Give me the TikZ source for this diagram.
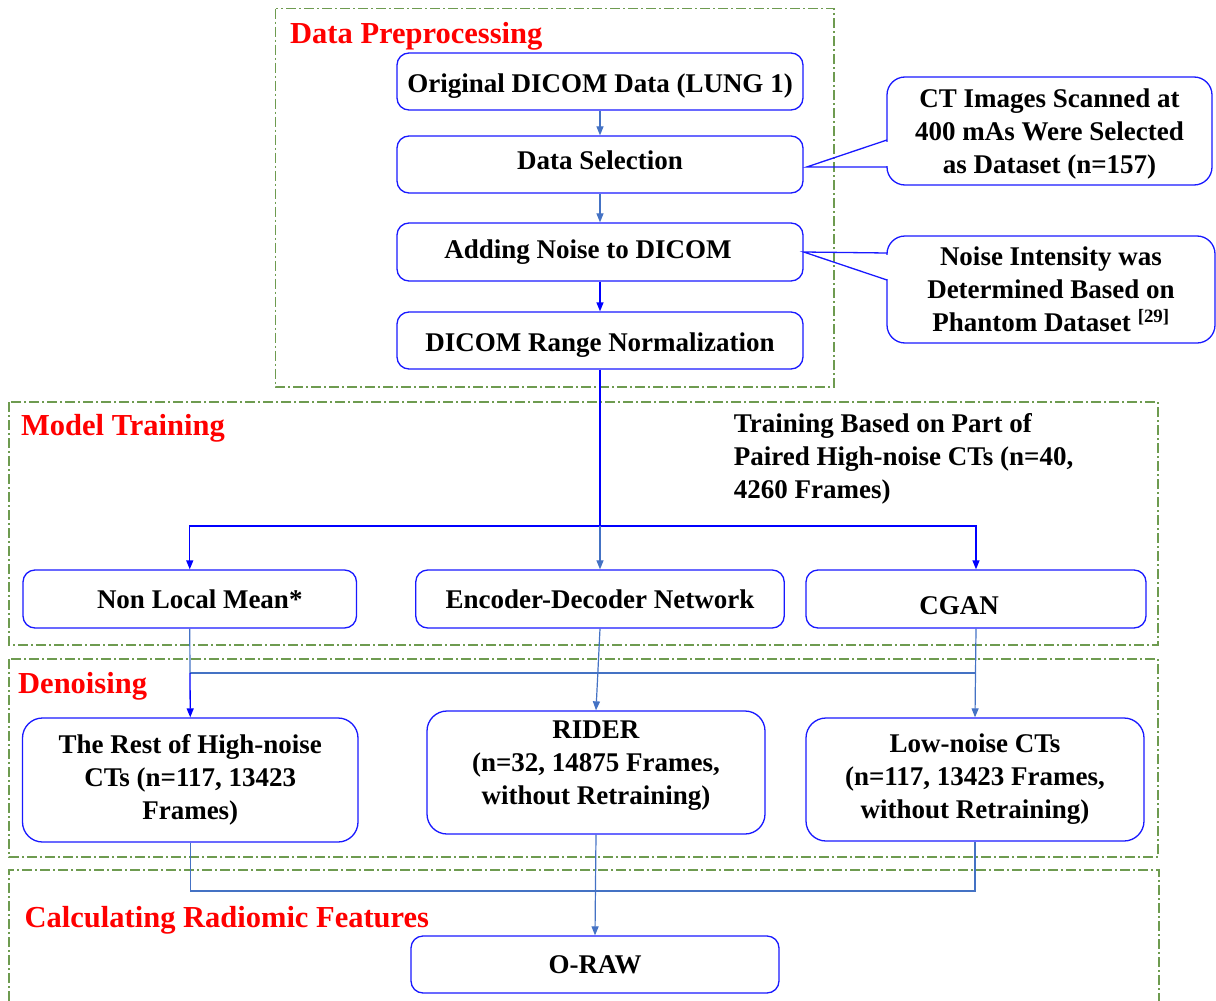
\documentclass[tikz,border=0pt]{standalone}
\usepackage{fontspec}
\setmainfont{Liberation Serif}
\usetikzlibrary{arrows.meta,calc}
\definecolor{boxblue}{RGB}{25,25,255}
\definecolor{lblue}{RGB}{68,114,196}
\definecolor{dblue}{RGB}{0,0,255}
\definecolor{grp}{RGB}{110,155,80}
\definecolor{ttl}{RGB}{255,0,0}
\newcommand{\shiftv}[2]{\raisebox{#1}[\height][\depth]{#2}}
\begin{document}
\begin{tikzpicture}[x=1pt,y=-1pt,
  every node/.style={font=\fontsize{27}{33}\selectfont\bfseries},
  box/.style={draw=boxblue, line width=1.3pt, rounded corners=12pt, inner sep=0pt, align=center, fill=white},
  tallbox/.style={box, rounded corners=20pt},
  callout/.style={box, rounded corners=18pt},
  group/.style={draw=grp, line width=1.2pt, dash pattern=on 10pt off 3pt on 2pt off 3pt},
  title/.style={text=ttl, font=\fontsize{30.5}{36}\selectfont\bfseries, anchor=base west, inner sep=0pt},
  la/.style={draw=lblue, line width=1.2pt},
  da/.style={draw=dblue, line width=1.3pt},
  tip/.style={-{Triangle[length=9pt,width=7pt]}}
]
\useasboundingbox (0,0) rectangle (1216,1001);

% groups
\draw[group] (275.5,8.5) rectangle (834,387);
\draw[group] (9,402) rectangle (1158,645);
\draw[group] (9,659) rectangle (1158,857);
\draw[group] (9,1001) -- (9,870) -- (1159,870) -- (1159,1001);

% titles
\node[title] (tprep) at (290,43) {Data Preprocessing};
\node[title] (ttrain) at (21,435) {Model Training};
\node[title] (tden) at (18,693) {Denoising};
\node[title] (tcalc) at (24.5,927) {Calculating Radiomic Features};

% preprocessing boxes
\node[box, minimum width=406pt, minimum height=57pt] (orig) at (600,81.5) {\shiftv{-5pt}{Original DICOM Data (LUNG 1)}};
\node[box, minimum width=406pt, minimum height=57pt] (sel) at (600,164.5) {\shiftv{4pt}{Data Selection}};
\node[box, minimum width=406pt, minimum height=58pt] (noise) at (600,252) {Adding Noise to DICOM\hspace*{24pt}};
\node[box, minimum width=406pt, minimum height=57pt] (norm) at (600,340.5) {\shiftv{-5pt}{DICOM Range Normalization}};

% callouts
\node[callout, minimum width=325pt, minimum height=108pt] (call1) at (1049.5,131) {\shiftv{-3pt}{\begin{tabular}{@{}c@{}}CT Images Scanned at\\400 mAs Were Selected\\as Dataset (n=157)\end{tabular}}};
\node[callout, minimum width=328pt, minimum height=107pt] (call2) at (1051,289.5) {Noise Intensity was\\Determined Based on\\Phantom Dataset \textsuperscript{[29]}};
\draw[white, line width=3pt] (887,141.5) -- (887,165.5);
\draw[boxblue, line width=1.3pt] (887,140) -- ($(sel.east)+(3,2.5)$) -- (887,167);
\draw[white, line width=3pt] (887,254.5) -- (887,278.5);
\draw[boxblue, line width=1.3pt] (887,253) -- (noise.east) -- (887,280);

% training
\node[anchor=north west, inner sep=0pt, align=left] (tlabel) at (733.6,413.5) {Training Based on Part of\\Paired High-noise CTs (n=40,\\4260 Frames)};
\node[box, minimum width=333.5pt, minimum height=58pt] (nlm) at (189.75,599) {\hspace*{20pt}Non Local Mean*};
\node[box, minimum width=368.5pt, minimum height=58pt] (enc) at (600,599) {Encoder-Decoder Network};
\node[box, minimum width=340pt, minimum height=58pt] (cgan) at (976,599) {\shiftv{-7pt}{CGAN}\hspace*{34pt}};

% denoising
\node[tallbox, minimum width=335.5pt, minimum height=124pt] (rest) at (190.25,780) {The Rest of High-noise\\CTs (n=117, 13423\\Frames)};
\node[tallbox, minimum width=338pt, minimum height=123pt] (rider) at (596,772.5) {\shiftv{8pt}{\begin{tabular}{@{}c@{}}RIDER\\(n=32, 14875 Frames,\\without Retraining)\end{tabular}}};
\node[tallbox, minimum width=338pt, minimum height=123pt] (low) at (975,779.5) {Low-noise CTs\\(n=117, 13423 Frames,\\without Retraining)};

% calculating
\node[box, minimum width=368pt, minimum height=57pt] (oraw) at (595,964.5) {O-RAW};

% connectors
\draw[la, tip] (orig) -- (sel);
\draw[la, tip] (sel) -- (noise);
\draw[da, tip] (noise) -- (norm);
\coordinate (split) at (600,526);
\draw[da] (norm.south) -- (split);
\draw[da, tip] (split) -| (nlm.north);
\draw[da, tip] (split) -| (cgan.north);
\draw[la, tip] (split) -- (enc.north);

\coordinate (jl) at (190,673);
\coordinate (jr) at (976,673);
\draw[la] (nlm.south) -- (jl);
\draw[la] (jl) -- (jr);
\draw[da, tip] (jl) -- (rest.north);
\draw[la, tip] (enc.south) -- (rider.north);
\draw[la, tip] (cgan.south) -- (low.north);

\coordinate (bl) at (190.25,891);
\coordinate (br) at (975,891);
\draw[la] (rest.south) -- (bl) -- (br) -- (low.south);
\draw[la, tip] (rider.south) -- (oraw.north);
\end{tikzpicture}
\end{document}
